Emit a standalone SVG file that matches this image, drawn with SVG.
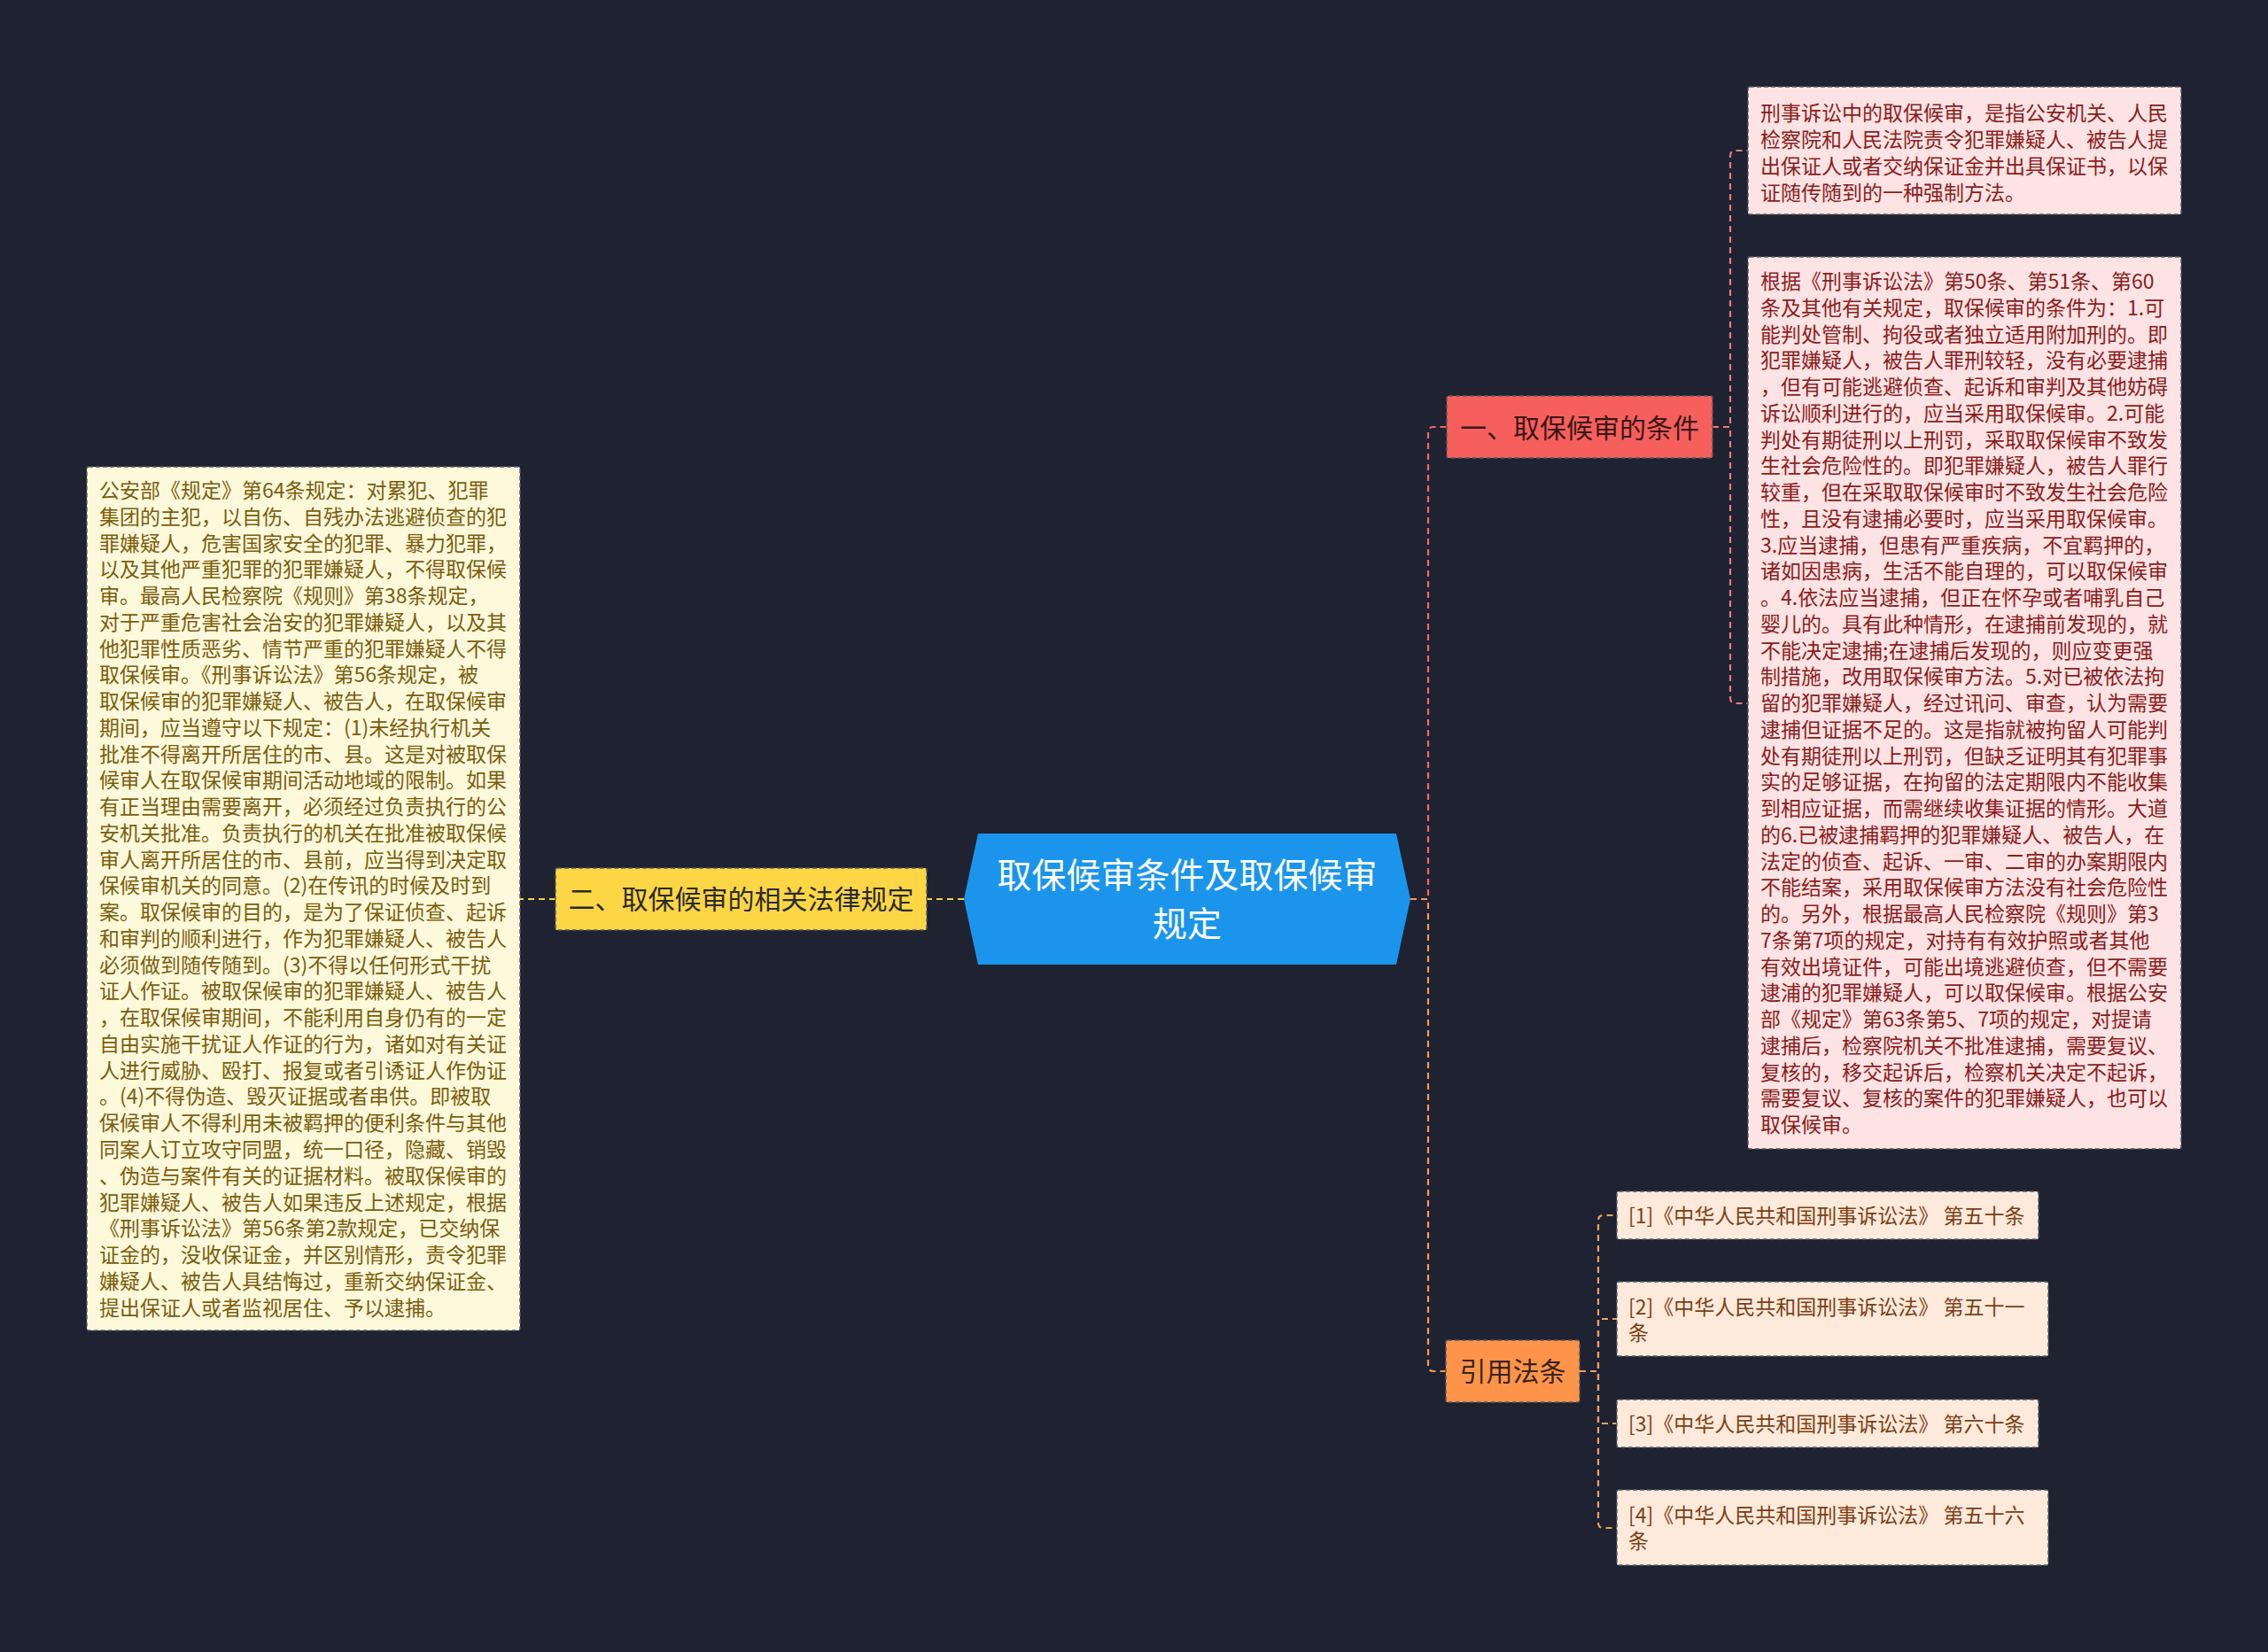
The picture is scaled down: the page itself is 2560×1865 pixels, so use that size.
<svg xmlns="http://www.w3.org/2000/svg" width="2560" height="1865" viewBox="0 0 2560 1865">
<style>
text{font-family:"Noto Sans CJK SC","Noto Sans",sans-serif}
.box{stroke:#555a66;stroke-width:1.5;stroke-dasharray:5 3}
.t23{font-size:23px}
.lbl{font-size:30px;text-anchor:middle}
.con{fill:none;stroke-width:2.2;stroke-dasharray:7 5}
</style>
<rect width="2560" height="1865" fill="#1f2231"/>
<g id="connectors">
<path class="con" stroke="#f5d04a" d="M1088 1015 H1046"/>
<path class="con" stroke="#f5d04a" d="M627 1015 H587"/>
<path class="con" stroke="#f06a66" d="M1592 1015 H1612 V488 Q1612 482 1618 482 H1633"/>
<path class="con" stroke="#f49a5a" d="M1592 1015 H1612 V1542 Q1612 1548 1618 1548 H1632"/>
<path class="con" stroke="#ec7a78" d="M1933 482 H1953 V176 Q1953 170 1959 170 H1973"/>
<path class="con" stroke="#ec7a78" d="M1933 482 H1953 V788 Q1953 794 1959 794 H1973"/>
<path class="con" stroke="#f0a060" d="M1783 1548 H1804 V1378 Q1804 1372 1810 1372 H1825"/>
<path class="con" stroke="#f0a060" d="M1783 1548 H1804 V1489 H1825"/>
<path class="con" stroke="#f0a060" d="M1783 1548 H1804 V1607 H1825"/>
<path class="con" stroke="#f0a060" d="M1783 1548 H1804 V1719 Q1804 1725 1810 1725 H1825"/>
</g>
<g id="root">
<polygon points="1088,1015 1104,941 1576,941 1592,1015 1576,1089 1104,1089" fill="#1b95ec"/>
<text x="1340" y="1002" font-size="39" fill="#ffffff" text-anchor="middle">取保候审条件及取保候审</text>
<text x="1340" y="1057" font-size="39" fill="#ffffff" text-anchor="middle">规定</text>
</g>
<g id="node-legal">
<rect class="box" x="627" y="980" width="419" height="70" rx="2" fill="#fdd645"/>
<text class="lbl" x="836.5" y="1026" fill="#2b2b2b">二、取保候审的相关法律规定</text>
</g>
<g id="node-legal-text">
<rect class="box" x="98" y="527" width="489" height="975" rx="2" fill="#fff9dc"/>
<text class="t23" x="112" y="562" fill="#7b5d0c">
<tspan x="112" dy="0">公安部《规定》第64条规定：对累犯、犯罪</tspan>
<tspan x="112" dy="29.76">集团的主犯，以自伤、自残办法逃避侦查的犯</tspan>
<tspan x="112" dy="29.76">罪嫌疑人，危害国家安全的犯罪、暴力犯罪，</tspan>
<tspan x="112" dy="29.76">以及其他严重犯罪的犯罪嫌疑人，不得取保候</tspan>
<tspan x="112" dy="29.76">审。最高人民检察院《规则》第38条规定，</tspan>
<tspan x="112" dy="29.76">对于严重危害社会治安的犯罪嫌疑人，以及其</tspan>
<tspan x="112" dy="29.76">他犯罪性质恶劣、情节严重的犯罪嫌疑人不得</tspan>
<tspan x="112" dy="29.76">取保候审。《刑事诉讼法》第56条规定，被</tspan>
<tspan x="112" dy="29.76">取保候审的犯罪嫌疑人、被告人，在取保候审</tspan>
<tspan x="112" dy="29.76">期间，应当遵守以下规定：(1)未经执行机关</tspan>
<tspan x="112" dy="29.76">批准不得离开所居住的市、县。这是对被取保</tspan>
<tspan x="112" dy="29.76">候审人在取保候审期间活动地域的限制。如果</tspan>
<tspan x="112" dy="29.76">有正当理由需要离开，必须经过负责执行的公</tspan>
<tspan x="112" dy="29.76">安机关批准。负责执行的机关在批准被取保候</tspan>
<tspan x="112" dy="29.76">审人离开所居住的市、县前，应当得到决定取</tspan>
<tspan x="112" dy="29.76">保候审机关的同意。(2)在传讯的时候及时到</tspan>
<tspan x="112" dy="29.76">案。取保候审的目的，是为了保证侦查、起诉</tspan>
<tspan x="112" dy="29.76">和审判的顺利进行，作为犯罪嫌疑人、被告人</tspan>
<tspan x="112" dy="29.76">必须做到随传随到。(3)不得以任何形式干扰</tspan>
<tspan x="112" dy="29.76">证人作证。被取保候审的犯罪嫌疑人、被告人</tspan>
<tspan x="112" dy="29.76">，在取保候审期间，不能利用自身仍有的一定</tspan>
<tspan x="112" dy="29.76">自由实施干扰证人作证的行为，诸如对有关证</tspan>
<tspan x="112" dy="29.76">人进行威胁、殴打、报复或者引诱证人作伪证</tspan>
<tspan x="112" dy="29.76">。(4)不得伪造、毁灭证据或者串供。即被取</tspan>
<tspan x="112" dy="29.76">保候审人不得利用未被羁押的便利条件与其他</tspan>
<tspan x="112" dy="29.76">同案人订立攻守同盟，统一口径，隐藏、销毁</tspan>
<tspan x="112" dy="29.76">、伪造与案件有关的证据材料。被取保候审的</tspan>
<tspan x="112" dy="29.76">犯罪嫌疑人、被告人如果违反上述规定，根据</tspan>
<tspan x="112" dy="29.76">《刑事诉讼法》第56条第2款规定，已交纳保</tspan>
<tspan x="112" dy="29.76">证金的，没收保证金，并区别情形，责令犯罪</tspan>
<tspan x="112" dy="29.76">嫌疑人、被告人具结悔过，重新交纳保证金、</tspan>
<tspan x="112" dy="29.76">提出保证人或者监视居住、予以逮捕。</tspan>
</text>
</g>
<g id="node-conditions">
<rect class="box" x="1633" y="447" width="300" height="70" rx="2" fill="#f65f5c"/>
<text class="lbl" x="1783" y="494" fill="#3a1616">一、取保候审的条件</text>
</g>
<g id="node-definition">
<rect class="box" x="1973" y="98" width="489" height="144" rx="2" fill="#fde3e3"/>
<text class="t23" x="1987" y="136" fill="#8c1c1c">
<tspan x="1987" dy="0">刑事诉讼中的取保候审，是指公安机关、人民</tspan>
<tspan x="1987" dy="29.9">检察院和人民法院责令犯罪嫌疑人、被告人提</tspan>
<tspan x="1987" dy="29.9">出保证人或者交纳保证金并出具保证书，以保</tspan>
<tspan x="1987" dy="29.9">证随传随到的一种强制方法。</tspan>
</text>
</g>
<g id="node-condition-text">
<rect class="box" x="1973" y="290" width="489" height="1007" rx="2" fill="#fde3e3"/>
<text class="t23" x="1987" y="326" fill="#8c1c1c">
<tspan x="1987" dy="0">根据《刑事诉讼法》第50条、第51条、第60</tspan>
<tspan x="1987" dy="29.75">条及其他有关规定，取保候审的条件为：1.可</tspan>
<tspan x="1987" dy="29.75">能判处管制、拘役或者独立适用附加刑的。即</tspan>
<tspan x="1987" dy="29.75">犯罪嫌疑人，被告人罪刑较轻，没有必要逮捕</tspan>
<tspan x="1987" dy="29.75">，但有可能逃避侦查、起诉和审判及其他妨碍</tspan>
<tspan x="1987" dy="29.75">诉讼顺利进行的，应当采用取保候审。2.可能</tspan>
<tspan x="1987" dy="29.75">判处有期徒刑以上刑罚，采取取保候审不致发</tspan>
<tspan x="1987" dy="29.75">生社会危险性的。即犯罪嫌疑人，被告人罪行</tspan>
<tspan x="1987" dy="29.75">较重，但在采取取保候审时不致发生社会危险</tspan>
<tspan x="1987" dy="29.75">性，且没有逮捕必要时，应当采用取保候审。</tspan>
<tspan x="1987" dy="29.75">3.应当逮捕，但患有严重疾病，不宜羁押的，</tspan>
<tspan x="1987" dy="29.75">诸如因患病，生活不能自理的，可以取保候审</tspan>
<tspan x="1987" dy="29.75">。4.依法应当逮捕，但正在怀孕或者哺乳自己</tspan>
<tspan x="1987" dy="29.75">婴儿的。具有此种情形，在逮捕前发现的，就</tspan>
<tspan x="1987" dy="29.75">不能决定逮捕;在逮捕后发现的，则应变更强</tspan>
<tspan x="1987" dy="29.75">制措施，改用取保候审方法。5.对已被依法拘</tspan>
<tspan x="1987" dy="29.75">留的犯罪嫌疑人，经过讯问、审查，认为需要</tspan>
<tspan x="1987" dy="29.75">逮捕但证据不足的。这是指就被拘留人可能判</tspan>
<tspan x="1987" dy="29.75">处有期徒刑以上刑罚，但缺乏证明其有犯罪事</tspan>
<tspan x="1987" dy="29.75">实的足够证据，在拘留的法定期限内不能收集</tspan>
<tspan x="1987" dy="29.75">到相应证据，而需继续收集证据的情形。大道</tspan>
<tspan x="1987" dy="29.75">的6.已被逮捕羁押的犯罪嫌疑人、被告人，在</tspan>
<tspan x="1987" dy="29.75">法定的侦查、起诉、一审、二审的办案期限内</tspan>
<tspan x="1987" dy="29.75">不能结案，采用取保候审方法没有社会危险性</tspan>
<tspan x="1987" dy="29.75">的。另外，根据最高人民检察院《规则》第3</tspan>
<tspan x="1987" dy="29.75">7条第7项的规定，对持有有效护照或者其他</tspan>
<tspan x="1987" dy="29.75">有效出境证件，可能出境逃避侦查，但不需要</tspan>
<tspan x="1987" dy="29.75">逮浦的犯罪嫌疑人，可以取保候审。根据公安</tspan>
<tspan x="1987" dy="29.75">部《规定》第63条第5、7项的规定，对提请</tspan>
<tspan x="1987" dy="29.75">逮捕后，检察院机关不批准逮捕，需要复议、</tspan>
<tspan x="1987" dy="29.75">复核的，移交起诉后，检察机关决定不起诉，</tspan>
<tspan x="1987" dy="29.75">需要复议、复核的案件的犯罪嫌疑人，也可以</tspan>
<tspan x="1987" dy="29.75">取保候审。</tspan>
</text>
</g>
<g id="node-refs">
<rect class="box" x="1632" y="1513" width="151" height="70" rx="2" fill="#fd944a"/>
<text class="lbl" x="1707.5" y="1559" fill="#3a2414">引用法条</text>
</g>
<g id="ref-1">
<rect class="box" x="1825" y="1345" width="476" height="54" rx="2" fill="#fdeadb"/>
<text class="t23" x="1838" y="1381" fill="#7d3f14">[1]《中华人民共和国刑事诉讼法》 第五十条</text>
</g>
<g id="ref-2">
<rect class="box" x="1825" y="1447" width="487" height="84" rx="2" fill="#fdeadb"/>
<text class="t23" x="1838" y="1484" fill="#7d3f14"><tspan x="1838" dy="0">[2]《中华人民共和国刑事诉讼法》 第五十一</tspan><tspan x="1838" dy="29">条</tspan></text>
</g>
<g id="ref-3">
<rect class="box" x="1825" y="1580" width="476" height="54" rx="2" fill="#fdeadb"/>
<text class="t23" x="1838" y="1616" fill="#7d3f14">[3]《中华人民共和国刑事诉讼法》 第六十条</text>
</g>
<g id="ref-4">
<rect class="box" x="1825" y="1682" width="487" height="85" rx="2" fill="#fdeadb"/>
<text class="t23" x="1838" y="1719" fill="#7d3f14"><tspan x="1838" dy="0">[4]《中华人民共和国刑事诉讼法》 第五十六</tspan><tspan x="1838" dy="29">条</tspan></text>
</g>
</svg>
